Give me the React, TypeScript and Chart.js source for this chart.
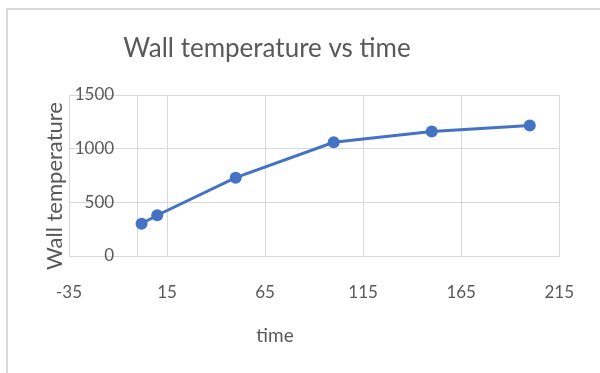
import React, { useEffect, useRef } from "react";
import { Chart, registerables } from "chart.js";

Chart.register(...registerables);

// Series data: wall temperature sampled over time
const timeValues = [2, 10, 50, 100, 150, 200];
const wallTemperature = [300, 380, 730, 1060, 1160, 1215];

// Axis tick values (the vertical axis crosses the time axis at 0)
const xTickValues = [-35, 0, 15, 65, 115, 165, 215];
const yTickValues = [0, 500, 1000, 1500];

const chartTitle = "Wall temperature vs time";
const xAxisTitle = "time";
const yAxisTitle = "Wall temperature";

const FONT = "Lato, 'Open Sans', sans-serif";
const TEXT_COLOR = "#595959";
const GRID_COLOR = "#d9d9d9";
const LINE_COLOR = "#4472c4";

// Draws the chart title and the two axis titles
const titlesPlugin = {
  id: "titles",
  afterDraw(chart: Chart) {
    const ctx = chart.ctx;
    ctx.save();
    ctx.fillStyle = TEXT_COLOR;
    ctx.textAlign = "center";
    ctx.textBaseline = "middle";

    ctx.font = `26px ${FONT}`;
    ctx.fillText(chartTitle, 267, 49);

    ctx.font = `19px ${FONT}`;
    ctx.fillText(xAxisTitle, 275, 336);

    ctx.font = `22px ${FONT}`;
    ctx.translate(55, 186);
    ctx.rotate(-Math.PI / 2);
    ctx.fillText(yAxisTitle, 0, 0);
    ctx.restore();
  },
};

export default function App() {
  const canvasRef = useRef<HTMLCanvasElement | null>(null);

  useEffect(() => {
    if (!canvasRef.current) return;
    const chart = new Chart(canvasRef.current, {
      type: "line",
      data: {
        datasets: [
          {
            data: timeValues.map((t, i) => ({ x: t, y: wallTemperature[i] })),
            borderColor: LINE_COLOR,
            backgroundColor: LINE_COLOR,
            borderWidth: 3,
            pointRadius: 6,
            pointBorderWidth: 0,
            pointBackgroundColor: LINE_COLOR,
            tension: 0,
          },
        ],
      },
      options: {
        animation: false,
        responsive: false,
        maintainAspectRatio: false,
        layout: { padding: { left: 69, right: 37, top: 95, bottom: 0 } },
        plugins: {
          legend: { display: false },
          tooltip: { enabled: false },
          title: { display: false },
        },
        scales: {
          x: {
            type: "linear",
            position: "bottom",
            min: -35,
            max: 215,
            afterBuildTicks: (scale: any) => {
              scale.ticks = xTickValues.map((v) => ({ value: v }));
            },
            afterFit: (scale: any) => {
              scale.height = 117;
            },
            ticks: {
              font: { family: FONT, size: 17 },
              color: TEXT_COLOR,
              padding: 26,
              maxRotation: 0,
              autoSkip: false,
              // the crossing line at 0 carries no label
              callback: (v: any) => (Number(v) === 0 ? "" : String(v)),
            },
            grid: { color: GRID_COLOR, drawTicks: false, lineWidth: 1 },
            border: { color: GRID_COLOR },
          },
          y: {
            type: "linear",
            // labels sit just left of the crossing line at time 0
            position: { x: -12 } as any,
            min: 0,
            max: 1500,
            afterBuildTicks: (scale: any) => {
              scale.ticks = yTickValues.map((v) => ({ value: v }));
            },
            ticks: {
              font: { family: FONT, size: 17 },
              color: TEXT_COLOR,
              callback: (v: any) => String(v),
            },
            grid: { color: GRID_COLOR, drawTicks: false, lineWidth: 1 },
            border: { display: false },
          },
        },
      },
      plugins: [titlesPlugin],
    });
    return () => chart.destroy();
  }, []);

  return (
    <div
      style={{
        position: "absolute",
        left: 0,
        top: 0,
        width: 600,
        height: 373,
        background: "#ffffff",
        overflow: "hidden",
      }}
    >
      <div
        style={{
          position: "absolute",
          left: 6,
          top: 8,
          right: -10,
          bottom: -10,
          borderLeft: `2px solid ${GRID_COLOR}`,
          borderTop: `2px solid ${GRID_COLOR}`,
        }}
      />
      <canvas
        ref={canvasRef}
        width={600}
        height={373}
        style={{ position: "absolute", left: 0, top: 0, width: 600, height: 373 }}
      />
    </div>
  );
}
